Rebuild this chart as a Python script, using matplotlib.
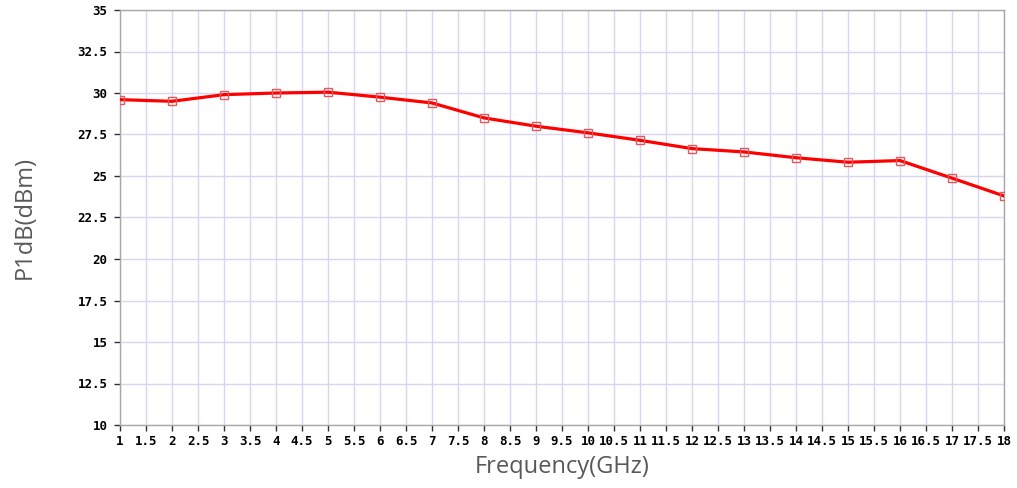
import matplotlib
matplotlib.use("Agg")
import matplotlib.pyplot as plt
import numpy as np

freq_ghz = [1, 2, 3, 4, 5, 6, 7, 8, 9, 10, 11, 12, 13, 14, 15, 16, 17, 18]
p1db_dbm = [29.6, 29.5, 29.9, 30.0, 30.05, 29.75, 29.4, 28.5, 28.0, 27.6,
            27.15, 26.65, 26.45, 26.1, 25.83, 25.93, 24.87, 23.8]
x_ticks = [1 + 0.5 * i for i in range(35)]
y_ticks = [10, 12.5, 15, 17.5, 20, 22.5, 25, 27.5, 30, 32.5, 35]

def fmt(v):
    return str(int(v)) if float(v).is_integer() else str(v)

fig = plt.figure(figsize=(10.17, 4.88), dpi=100)
ax = fig.add_axes([120 / 1017, 63 / 488, 884 / 1017, 415 / 488])

ax.plot(freq_ghz, p1db_dbm, color="#ff0000", lw=2.3, zorder=3)
ax.plot(freq_ghz, p1db_dbm, ls="none", marker="s", ms=5.5, mfc="none",
        mec="#e05a5a", mew=1.0, zorder=4)

ax.set_xlim(1, 18)
ax.set_ylim(10, 35)
ax.set_xticks(x_ticks)
ax.set_xticklabels([fmt(v) for v in x_ticks])
ax.set_yticks(y_ticks)
ax.set_yticklabels([fmt(v) for v in y_ticks])

for lab in ax.get_xticklabels() + ax.get_yticklabels():
    lab.set_fontfamily("DejaVu Sans Mono")
    lab.set_fontweight("bold")
    lab.set_fontsize(9)
    lab.set_color("#000000")

ax.tick_params(axis="both", direction="out", length=4, width=1.0,
               color="#303030")
ax.tick_params(axis="y", pad=5)
ax.tick_params(axis="x", pad=3)
ax.grid(True, color="#d6d6f2", lw=1.0, zorder=0)
ax.set_axisbelow(True)
for s in ax.spines.values():
    s.set_color("#a8a8a8")
    s.set_linewidth(1.0)

ax.set_xlabel("Frequency(GHz)", fontsize=17, color="#595959",
              family="Open Sans", labelpad=5)
ax.set_ylabel("P1dB(dBm)", fontsize=17, color="#595959",
              family="Open Sans", labelpad=29)

fig.savefig("out.png", dpi=100, facecolor="white")
